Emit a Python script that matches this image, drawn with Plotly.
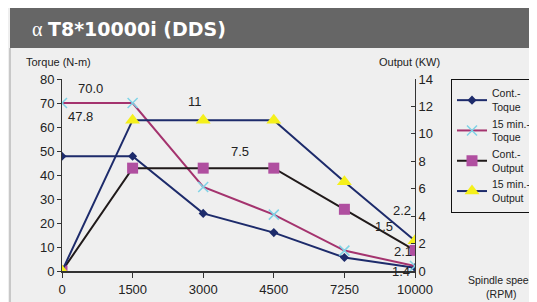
import plotly.graph_objects as go

speeds = ["0", "1500", "3000", "4500", "7250", "10000"]
cont_torque = [47.8, 47.8, 24, 16, 5.6, 1.4]
min15_torque = [70.0, 70.0, 35, 23.5, 8.5, 2.1]
cont_output = [0, 7.5, 7.5, 7.5, 4.5, 1.5]
min15_output = [0, 11, 11, 11, 6.5, 2.2]

xs = list(range(len(speeds)))
O = 8  # page body margin offset
W, H = 537 - O, 302 - O
L, R, T, B = 62 - O, 415 - O, 79 - O, 271 - O

fig = go.Figure()
fig.add_trace(go.Scatter(x=xs, y=cont_torque, name="Cont.-<br>Toque", mode="lines+markers",
                         line=dict(color="#1d2b6b", width=2),
                         marker=dict(symbol="diamond", size=7, color="#1d2b6b")))
fig.add_trace(go.Scatter(x=xs, y=min15_torque, name="15 min.-<br>Toque", mode="lines+markers",
                         line=dict(color="#a4336e", width=2),
                         marker=dict(symbol="x-thin-open", size=10, color="#7fd3e6",
                                     line=dict(color="#7fd3e6", width=1.5))))
fig.add_trace(go.Scatter(x=xs, y=cont_output, name="Cont.-<br>Output", mode="lines+markers", yaxis="y2",
                         line=dict(color="#201a1a", width=2),
                         marker=dict(symbol="square", size=11, color="#b04fa0")))
fig.add_trace(go.Scatter(x=xs, y=min15_output, name="15 min.-<br>Output", mode="lines+markers", yaxis="y2",
                         line=dict(color="#1d2b6b", width=2),
                         marker=dict(symbol="triangle-up", size=13, color="#f5f01a")))

font = dict(family="Liberation Sans, Arial", size=13, color="#222")

# helpers take screen (reference) pixel coords
def px(x):
    return (x - O - L) / (R - L)

def py(y):
    return (B - (y - O)) / (B - T)

shapes = [
    dict(type="rect", xref="paper", yref="paper", x0=px(O), x1=px(537), y0=py(O), y1=py(8),
         fillcolor="#f7f7f7", line=dict(width=0), layer="below"),
    dict(type="rect", xref="paper", yref="paper", x0=px(10), x1=px(537), y0=py(48), y1=py(8),
         fillcolor="#666666", line=dict(width=0), layer="below"),
    dict(type="line", xref="paper", yref="paper", x0=px(10), x1=px(10), y0=py(48), y1=py(302),
         line=dict(color="#c8c8c8", width=2)),
]

ann = [
    dict(text="<b>T8*10000i (DDS)</b>", x=px(46), y=py(29), xanchor="left", yanchor="middle",
         font=dict(family="DejaVu Sans, Arial", size=19, color="white")),
    dict(text="α", x=px(30), y=py(29), xanchor="left", yanchor="middle",
         font=dict(family="Liberation Serif, Times New Roman", size=20, color="white")),
    dict(text="Torque (N-m)", x=px(24), y=py(62), xanchor="left", yanchor="middle", font=dict(font, size=11)),
    dict(text="Output (KW)", x=px(377), y=py(62), xanchor="left", yanchor="middle", font=dict(font, size=11)),
    dict(text="Spindle speed<br>(RPM)", x=px(501), y=py(287), xanchor="center", yanchor="middle",
         font=dict(font, size=10.5)),
]
labels = [("70.0", 90, 88), ("47.8", 80, 116), ("11", 195, 101), ("7.5", 240, 151),
          ("2.2", 402, 210), ("1.5", 384, 226), ("2.1", 403, 251), ("1.4", 401, 271)]
for t, x, y in labels:
    ann.append(dict(text=t, x=px(x), y=py(y), xanchor="center", yanchor="middle", font=font))

for a in ann:
    a.update(xref="paper", yref="paper", showarrow=False)

fig.update_layout(
    width=W, height=H,
    margin=dict(l=L, r=W - R, t=T, b=H - B, autoexpand=False),
    paper_bgcolor="#efefef", plot_bgcolor="#efefef",
    font=font,
    showlegend=True,
    legend=dict(x=px(451), y=py(79), xanchor="left", yanchor="top", bgcolor="#efefef",
                bordercolor="#111", borderwidth=1, font=dict(font, size=10.5),
                tracegroupgap=0, itemwidth=30),
    xaxis=dict(range=[0, len(speeds) - 1], tickvals=xs, ticktext=speeds, showgrid=False,
               zeroline=False, showline=True, linecolor="#333", linewidth=2,
               ticks="outside", ticklen=5, tickcolor="#333", tickfont=font, automargin=False),
    yaxis=dict(range=[0, 80], dtick=10, showgrid=False, zeroline=False, showline=True,
               linecolor="#333", linewidth=1, ticks="outside", ticklen=4, tickcolor="#333", tickfont=font,
               automargin=False),
    yaxis2=dict(range=[0, 14], dtick=2, overlaying="y", side="right", showgrid=False, zeroline=False,
                showline=True, linecolor="#333", linewidth=1, ticks="inside", ticklen=4,
                tickcolor="#333", tickfont=font, automargin=False),
    shapes=shapes,
    annotations=ann,
)

fig.write_html("out.html")
